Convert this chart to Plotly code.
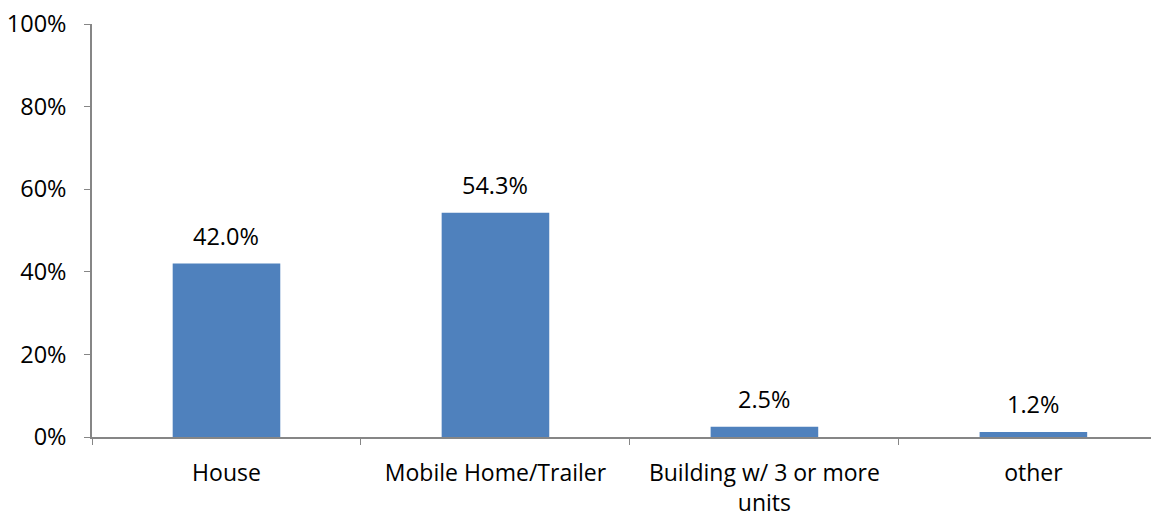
import plotly.graph_objects as go

categories = ["House", "Mobile Home/Trailer", "Building w/ 3 or more<br>units", "other"]
shares = [42.0, 54.3, 2.5, 1.2]
labels = ["42.0%", "54.3%", "2.5%", "1.2%"]
y_ticks = [0, 20, 40, 60, 80, 100]

fig = go.Figure(
    go.Bar(
        x=categories,
        y=shares,
        marker=dict(color="#4F81BD", line=dict(width=0)),
        width=0.4,
    )
)

# value labels sit a little above each bar
for cat, val, lab in zip(categories, shares, labels):
    fig.add_annotation(
        x=cat, y=val, text=lab, showarrow=False,
        yanchor="bottom", yshift=10,
        font=dict(size=23.5, color="#000000"),
    )

# page body has an 8px margin, so the figure is a bit smaller than the window
fig.update_layout(
    width=1151,
    height=513,
    margin=dict(l=84, r=0, t=16, b=84),
    plot_bgcolor="white",
    paper_bgcolor="white",
    font=dict(family="Open Sans, sans-serif", size=23.5, color="#000000"),
    showlegend=False,
)

fig.update_xaxes(
    range=[-0.5, 3.467],
    automargin=False,
    showline=True,
    linecolor="#868686",
    linewidth=1.5,
    ticks="outside",
    tickson="boundaries",
    ticklen=6,
    tickcolor="#868686",
    tickfont=dict(size=23),
    ticklabelstandoff=15,
    ticklabeloverflow="allow",
    showgrid=False,
)

fig.update_yaxes(
    range=[0, 100],
    automargin=False,
    tickvals=y_ticks,
    ticktext=[f"{v}%" for v in y_ticks],
    showline=True,
    linecolor="#868686",
    linewidth=1.5,
    ticks="outside",
    ticklen=6,
    tickcolor="#868686",
    ticklabelstandoff=13,
    ticklabeloverflow="allow",
    showgrid=False,
    zeroline=False,
)

fig.write_html("out.html")
